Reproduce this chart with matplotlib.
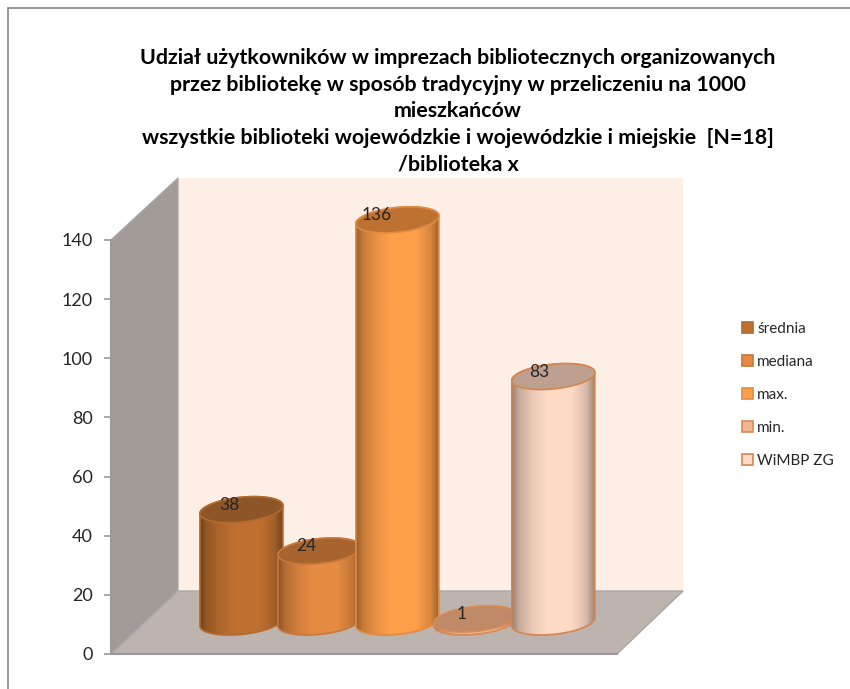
import numpy as np
import matplotlib
matplotlib.use('Agg')
import matplotlib.pyplot as plt
from matplotlib.patches import Polygon, Patch, Rectangle
from matplotlib.transforms import IdentityTransform

# data
categories = ['średnia', 'mediana', 'max.', 'min.', 'WiMBP ZG']
values = [38, 24, 136, 1, 83]
yticks = [0, 20, 40, 60, 80, 100, 120, 140]
title = ('Udział użytkowników w imprezach bibliotecznych organizowanych\n'
         'przez bibliotekę w sposób tradycyjny w przeliczeniu na 1000\n'
         'mieszkańców\n'
         'wszystkie biblioteki wojewódzkie i wojewódzkie i miejskie  [N=18]\n'
         '/biblioteka x')

# colours per column
body_colors = ['#BF7030', '#E58B42', '#FF9F4A', '#F3B491', '#FEDAC5']
cap_colors = ['#8C5628', '#A7642E', '#BE7232', '#C08A69', '#BDA090']
edge_colors = ['#B46A2E', '#C9763A', '#E08A42', '#D98A55', '#D5864E']
label_shift = [-12, -13, -21, -14, -14]

W, H = 850, 689
plt.rcParams['font.family'] = ['Lato', 'DejaVu Sans']

fig = plt.figure(figsize=(W / 100, H / 100), dpi=100)
ax = fig.add_axes([111 / W, (H - 654) / H, 506 / W, 414 / H])
ax.patch.set_alpha(0)
pix = IdentityTransform()


def p(x, y):
    # picture coords (y down) to figure pixels
    return (x, H - y)


def add_poly(pts, **kw):
    poly = Polygon([p(*q) for q in pts], closed=True, transform=pix, clip_on=False, **kw)
    ax.add_patch(poly)
    return poly


# chart frame
fig.add_artist(Rectangle((8, -5), W + 20, H - 8 + 5, transform=pix, fill=False,
                         ec='#868686', lw=1.2))

# walls and floor
add_poly([(178, 178), (683, 178), (683, 591), (178, 591)], fc='#FDEEE6', ec='none', zorder=1)
add_poly([(111, 654), (111, 240), (178, 178), (178, 591)], fc='#A39B97', ec='#A8A8A8', lw=1, zorder=1)
add_poly([(111, 654), (617, 654), (683, 591), (178, 591)], fc='#BDB3AF', ec='#A8A8A8', lw=1, zorder=1.1)

ax.set_xlim(-1.25, 5.24)
ax.set_ylim(0, 140)

# cylinders
depth_x, depth_y = 33, 32
a, b = 41.7, 12.3
tilt = np.radians(6)
t = np.linspace(0, 2 * np.pi, 200, endpoint=False)
ell_x = a * np.cos(t) * np.cos(tilt) - b * np.sin(t) * np.sin(tilt)
ell_y = a * np.cos(t) * np.sin(tilt) + b * np.sin(t) * np.cos(tilt)
ell = np.column_stack([ell_x, ell_y])
i_r, i_l = ell_x.argmax(), ell_x.argmin()
top_arc = ell[np.arange(i_r, i_r + 200) % 200][:(i_l - i_r) % 200 + 1]
low_arc = ell[np.arange(i_l, i_l + 200) % 200][:(i_r - i_l) % 200 + 1]

stops = [0, 0.08, 0.25, 0.42, 0.72, 0.9, 1]
shade = [0.6, 0.78, 0.92, 1, 1, 0.85, 0.62]

for i, v in enumerate(values):
    z = 3 + i
    base = ax.transData.transform((i, 0)) + (depth_x, depth_y)
    top = ax.transData.transform((i, v)) + (depth_x, depth_y)
    outline = np.vstack([top + top_arc, base + low_arc])
    body = Polygon(outline, closed=True, transform=pix, fc='none', ec=edge_colors[i],
                   lw=1.2, zorder=z + 0.2, clip_on=False)
    ax.add_patch(body)

    rgb = np.array(matplotlib.colors.to_rgb(body_colors[i]))
    u = np.linspace(0, 1, 120)
    grad = np.interp(u, stops, shade)[None, :, None] * rgb[None, None, :]
    x0, x1 = outline[:, 0].min(), outline[:, 0].max()
    y0, y1 = outline[:, 1].min(), outline[:, 1].max()
    im = ax.imshow(grad, extent=(x0, x1, y0, y1), transform=pix, aspect='auto',
                   zorder=z + 0.1, interpolation='bilinear')
    im.set_clip_path(body)
    im.set_clip_box(fig.bbox)

    cap = Polygon(top + ell, closed=True, transform=pix, fc=cap_colors[i], ec=edge_colors[i],
                  lw=1.2, zorder=z + 0.3, clip_on=False)
    ax.add_patch(cap)
    ax.text(top[0] + label_shift[i], top[1] + 5, str(v), transform=pix, ha='center',
            va='center', fontsize=12.5, color='#262626', zorder=20)

ax.set_xlim(-1.25, 5.24)
ax.set_ylim(0, 140)
ax.set_aspect('auto')

# axes
ax.set_xticks([])
ax.set_yticks(yticks)
ax.tick_params(axis='y', length=5, width=1.2, color='#9A9A9A', labelsize=13,
               labelcolor='#262626', pad=8)
for name in ['top', 'right']:
    ax.spines[name].set_visible(False)
for name in ['left', 'bottom']:
    ax.spines[name].set_color('#9A9A9A')
    ax.spines[name].set_linewidth(1.5)
    ax.spines[name].set_zorder(2)

fig.text(458 / W, 1 - 48 / H, title, ha='center', va='top', fontsize=15.4,
         fontweight='bold', color='black', linespacing=1.42)

# legend
handles = [Patch(fc=body_colors[i], ec=edge_colors[i], lw=1.2) for i in range(len(categories))]
ax.legend(handles, categories, loc='upper left', bbox_to_anchor=(742 / W, 1 - 322 / H),
          bbox_transform=fig.transFigure, frameon=False, fontsize=11, labelcolor='#262626',
          handlelength=0.75, handleheight=0.75, handletextpad=0.25, labelspacing=1.24,
          borderpad=0, borderaxespad=0)

fig.savefig('out.png', dpi=100)
